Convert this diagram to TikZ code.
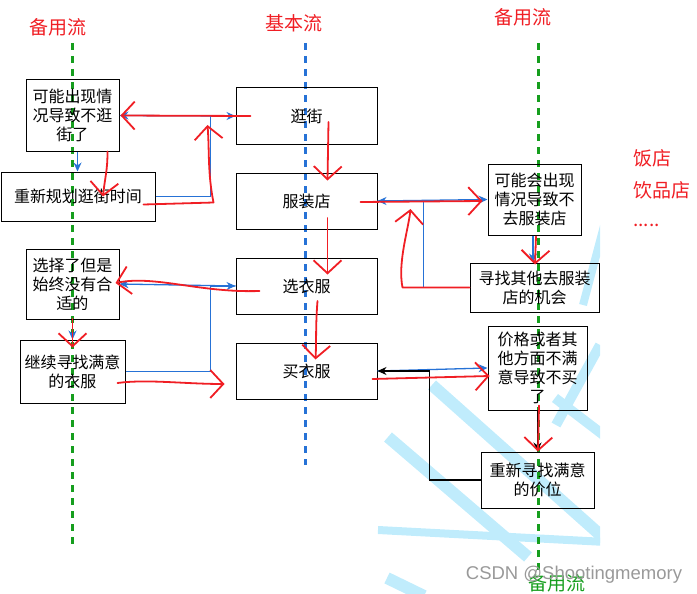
\documentclass[tikz,border=0pt]{standalone}
\usepackage{fontspec}
\setmainfont{Noto Sans CJK SC}
\newfontfamily\wmfont{Liberation Sans}
\usepackage{xcolor}
\usepackage{tikz}
\usetikzlibrary{arrows.meta,positioning}
\definecolor{penred}{RGB}{240,30,36}
\definecolor{flowblue}{RGB}{38,114,214}
\definecolor{altgreen}{RGB}{22,158,30}
\definecolor{wmblue}{RGB}{192,236,252}

\begin{document}
\begin{tikzpicture}[x=1pt,y=-1pt,node distance=28pt,>={Stealth[length=9pt,width=8pt]},
  box/.style={draw,line width=1pt,align=center,font=\fontsize{16}{19}\selectfont,minimum width=141pt,minimum height=56pt,inner sep=1pt},
  swim/.style={line width=3pt,dash pattern=on 7pt off 6pt},
  lbl/.style={text=penred,font=\fontsize{19}{22}\selectfont,inner sep=0pt},
  flow/.style={draw=flowblue,line width=1.3pt,->},
  back/.style={draw=black,line width=1.3pt,->},
  pen/.style={draw=penred,line width=1.8pt,line cap=round,line join=round,-{Straight Barb[length=13pt,width=28pt]}}]
\useasboundingbox (0,0) rectangle (697,594);
% watermark stripes
\begin{scope}
\clip (376,222) rectangle (600,594);
\foreach \xa/\ya/\xb/\yb/\w in {432/385/606/540/12,388/437/528/557/12,378/530/606/542/8,
  600/345/556/425/10,604/226/583/305/8,555/398/606/437/10,387/578/424/596/12}
  \draw[wmblue,line width=\w pt] (\xa,\ya) -- (\xb,\yb);
\end{scope}
% swim lanes
\draw[swim,draw=altgreen,line width=3pt] (72,43) -- (72,548);
\draw[swim,draw=flowblue,line width=3pt] (305,43) -- (305,465);
\draw[swim,draw=altgreen,line width=3pt] (538,43) -- (538,575);
\node[lbl] (altl) at (58,27) {备用流};
\node[lbl] (basic) at (294,23) {基本流};
\node[lbl] (altr) at (523,17) {备用流};
\node[lbl,anchor=west] (food) at (633,158) {饭店};
\node[lbl,anchor=west] (drink) at (633,190) {饮品店};
\node[lbl,anchor=west] (more) at (633,225) {.....};
% basic flow
\node[box] (pg) at (306.5,116) {逛街};
\node[box,below=of pg] (shop) {服装店};
\node[box,below=of shop] (pick) {选衣服};
\node[box,below=of pick] (buy) {买衣服};
% alternative flows
\node[box,minimum width=93pt,minimum height=71pt] (quit) at (72.5,115.5) {可能出现情\\况导致不逛\\街了};
\node[box,minimum width=154pt,minimum height=49pt] (replan) at (78,196.5) {重新规划逛街时间};
\node[box,minimum width=93pt,minimum height=70pt] (nofit) at (72.5,284) {选择了但是\\始终没有合\\适的};
\node[box,minimum width=105pt,minimum height=63pt] (keep) at (72.5,371.5) {继续寻找满意\\的衣服};
\node[box,minimum width=93pt,minimum height=71pt] (noshop) at (534.5,199.5) {可能会出现\\情况导致不\\去服装店};
\node[box,minimum width=129pt,minimum height=49pt] (other) at (534.5,287.5) {寻找其他去服装\\店的机会};
\node[box,minimum width=99pt,minimum height=84pt] (nobuy) at (537.5,368) {价格或者其\\他方面不满\\意导致不买\\了};
\node[box,minimum width=113pt,minimum height=56pt] (reprice) at (537.5,480) {重新寻找满意\\的价位};
% connectors
\draw[flow] (pg.west) -- (quit.east);
\draw[flow] ([xshift=5pt]quit.south) -- ([xshift=5pt]quit.south |- replan.north);
\draw[flow] (replan.east) -| ([xshift=-25pt]pg.west) -- (pg.west);
\draw[flow] (pick.west) -- (nofit.east);
\draw[flow] (nofit.south) -- (keep.north);
\draw[flow] (keep.east) -| ([xshift=-25pt]pick.west) -- (pick.west);
\draw[flow] (shop.east) -- (noshop.west);
\draw[flow] (other.west) -| ([xshift=46pt]shop.east) -- (shop.east);
\draw[flow] ([xshift=-1.5pt]noshop.south) -- ([xshift=-1.5pt]noshop.south |- other.north);
\draw[flow] (buy.east) -- (nobuy.west);
\draw[back] (reprice.west) -| ([xshift=52pt]buy.east) -- (buy.east);
\draw[back] (nobuy.south) -- (reprice.north);
% red pen marks
\draw[pen] ([xshift=15pt]pg.west) -- ([xshift=1pt]quit.east);
\draw[pen] ([xshift=-12pt,yshift=-8pt]replan.east) -- ([xshift=58pt,yshift=-6pt]replan.east)
  .. controls +(-6,-30) and +(2,25) .. ([xshift=-28pt,yshift=-9pt]pg.west);
\draw[pen] ([xshift=35pt]quit.south) .. controls +(0,20) and +(2,-20) .. ([xshift=25pt,yshift=-25pt]replan.north);
\draw[pen] ([xshift=22pt,yshift=-6pt]pg.center) -- ([xshift=21pt,yshift=-8pt]shop.north);
\draw[pen] ([xshift=21pt,yshift=-17pt]shop.center) -- ([xshift=21pt,yshift=-17pt]pick.north);
\draw[pen] ([xshift=11pt,yshift=-15pt]pick.center) .. controls +(-2,25) and +(1,-20) .. ([xshift=9pt,yshift=-17pt]buy.north);
\draw[pen] ([xshift=24pt,yshift=-5pt]pick.west) .. controls +(-60,2) and +(40,-8) .. ([xshift=-4pt,yshift=1pt]nofit.east);
\draw[pen] ([yshift=1pt]nofit.south) -- ([yshift=-8pt]keep.north);
\draw[pen] ([xshift=-8pt,yshift=-11.5pt]keep.east) .. controls +(30,-4) and +(-40,0) .. ([xshift=-11pt,yshift=-13pt]buy.west);
\draw[pen] ([xshift=-17pt,yshift=-1pt]shop.east) -- ([xshift=-5pt,yshift=-1.5pt]noshop.west);
\draw[pen] (other.west) -- ++(-67,0) .. controls +(-5,-25) and +(-2,20) .. ([xshift=33pt,yshift=-8pt]shop.east);
\draw[pen] ([xshift=1.5pt,yshift=-1pt]noshop.south) -- ([xshift=0.5pt,yshift=-2pt]other.north);
\draw[pen] ([xshift=-5pt,yshift=-8pt]buy.east) -- ([xshift=2pt,yshift=-8pt]nobuy.west);
\draw[pen] ([xshift=1.5pt,yshift=5pt]nobuy.south) -- ([xshift=0.5pt]reprice.north);
% footer
\node[text=altgreen,font=\fontsize{19}{22}\selectfont,inner sep=0pt] (altb) at (557,583) {备用流};
\node[text=gray!80,font=\wmfont\fontsize{18.5}{22}\selectfont,inner sep=0pt] (wm) at (574,575) {CSDN @Shootingmemory};
\end{tikzpicture}
\end{document}
